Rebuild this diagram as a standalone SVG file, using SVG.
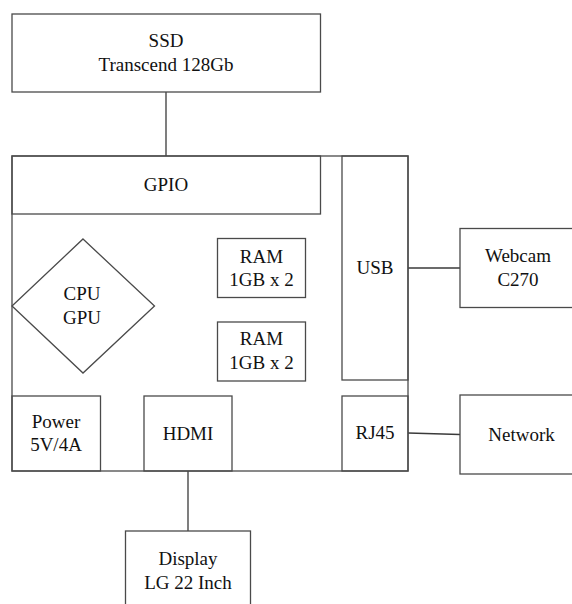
<svg xmlns="http://www.w3.org/2000/svg" width="572" height="604" viewBox="0 0 572 604">
<style>
.b{fill:none;stroke:#4a4a4a;stroke-width:1.3}
.c{fill:none;stroke:#3a3a3a;stroke-width:1.3}
text{font-family:'Liberation Serif','DejaVu Serif',serif;font-size:19px;fill:#111;text-anchor:middle}
</style>
<rect width="572" height="604" fill="#fff"/>
<g id="connectors">
<line class="c" x1="166" y1="92" x2="166" y2="156"/>
<line class="c" x1="408" y1="268" x2="460" y2="268"/>
<line class="c" x1="408" y1="433" x2="460" y2="434.5"/>
<line class="c" x1="188" y1="471" x2="188" y2="531"/>
</g>
<g id="ssd"><rect class="b" x="12" y="14" width="308.5" height="78"/><text x="166" y="47">SSD</text><text x="166" y="71">Transcend 128Gb</text></g>
<g id="board"><rect class="b" x="12" y="156" width="396" height="315"/></g>
<g id="gpio"><rect class="b" x="12" y="156" width="308.5" height="58"/><text x="166" y="191">GPIO</text></g>
<g id="usb"><rect class="b" x="342" y="156" width="66" height="224"/><text x="375" y="274">USB</text></g>
<g id="cpu"><polygon class="b" points="83,239 154.5,306 83,373 12,306"/><text x="82" y="300">CPU</text><text x="82" y="323.5">GPU</text></g>
<g id="ram1"><rect class="b" x="217.5" y="238.5" width="88" height="59"/><text x="261.5" y="262.5">RAM</text><text x="261.5" y="286">1GB x 2</text></g>
<g id="ram2"><rect class="b" x="217.5" y="322" width="88" height="59"/><text x="261.5" y="345">RAM</text><text x="261.5" y="368.5">1GB x 2</text></g>
<g id="power"><rect class="b" x="12" y="396" width="88.5" height="75"/><text x="56" y="428">Power</text><text x="56" y="451">5V/4A</text></g>
<g id="hdmi"><rect class="b" x="144" y="396" width="88" height="75"/><text x="188" y="440">HDMI</text></g>
<g id="rj45"><rect class="b" x="342" y="396" width="66" height="75"/><text x="375" y="439">RJ45</text></g>
<g id="webcam"><rect class="b" x="460" y="228.5" width="120" height="79"/><text x="518" y="262">Webcam</text><text x="518" y="285.5">C270</text></g>
<g id="network"><rect class="b" x="460" y="395" width="120" height="79"/><text x="521.5" y="441">Network</text></g>
<g id="display"><rect class="b" x="125.5" y="531" width="125" height="80"/><text x="188" y="565">Display</text><text x="188" y="588.5">LG 22 Inch</text></g>
</svg>
